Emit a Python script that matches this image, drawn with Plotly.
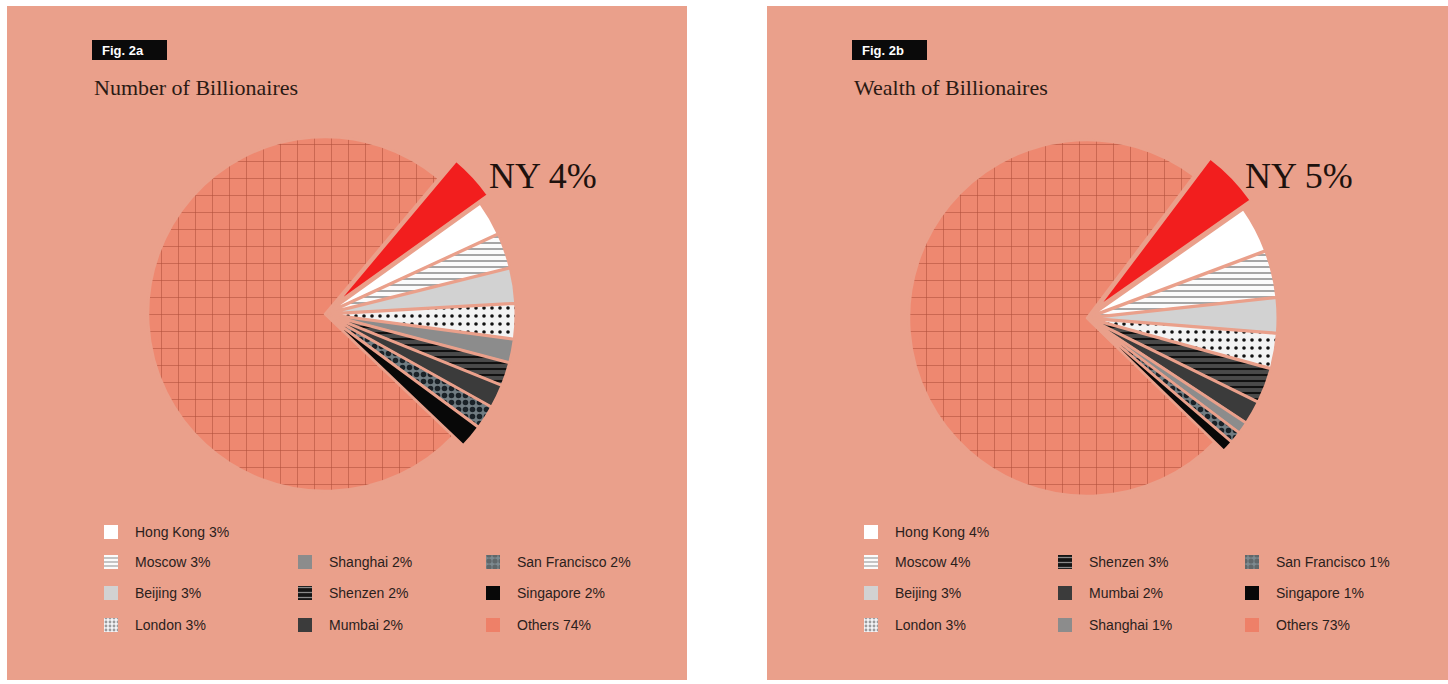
import plotly.graph_objects as go

W, H = 1448, 684

# ---------------- data ----------------
cities_a = ["NY", "Hong Kong", "Moscow", "Beijing", "London", "Shanghai",
            "Shenzen", "Mumbai", "San Francisco", "Singapore", "Others"]
share_a = [4, 3, 3, 3, 3, 2, 2, 2, 2, 2, 74]

cities_b = ["NY", "Hong Kong", "Moscow", "Beijing", "London", "Shenzen",
            "Mumbai", "Shanghai", "San Francisco", "Singapore", "Others"]
share_b = [5, 4, 4, 3, 3, 3, 2, 1, 1, 1, 73]

titles = ["Number of Billionaires", "Wealth of Billionaires"]
fig_tags = ["Fig. 2a", "Fig. 2b"]

# ---------------- styles ----------------
PANEL = "#eaa08b"
OTHERS = "#ee8870"
CLEAR = "rgba(0,0,0,0)"
# city: (pattern shape, fg, bg, size, solidity)
STYLE = {
    "NY": ("", "#f21e1e", "#f21e1e", 8, 0.3),
    "Hong Kong": ("", "#ffffff", "#ffffff", 8, 0.3),
    "Moscow": ("-", "#7a7a7a", "#fbfbfb", 6, 0.22),
    "Beijing": ("", "#d2d2d2", "#d2d2d2", 8, 0.3),
    "London": (".", "#111111", "#f3f3f3", 8, 0.16),
    "Shanghai": ("", "#8c8c8c", "#8c8c8c", 8, 0.3),
    "Shenzen": ("-", "#111111", "#4a4a4a", 6, 0.35),
    "Mumbai": ("", "#3b3b3b", "#3b3b3b", 8, 0.3),
    "San Francisco": (".", "#1a2228", "#707c82", 7, 0.5),
    "Singapore": ("", "#080808", "#080808", 8, 0.3),
    "Others": ("+", "#b04f3a", OTHERS, 17, 0.065),
}
LEG_STYLE = {  # small legend swatches
    "Moscow": ("-", "#9a9a9a", "#fbfbfb", 4, 0.3),
    "London": (".", "#8fa0c0", "#f3f3f6", 4, 0.4),
    "Shenzen": ("-", "#777777", "#151515", 5, 0.25),
    "San Francisco": (".", "#111a20", "#7d8a90", 6, 0.6),
    "Others": ("", OTHERS, "#ee8068", 8, 0.3),
}
BIG = "Others"
PULL_NY = 0.08
PULL_SMALL = 0.02
R_SMALL = 187   # radius of the fan of city slices (px)

panels = [
    dict(x0=7, x1=687, cx=325, cy=314, r=177, rot=40, cities=cities_a, share=share_a,
         ny=(487, 176), legx=[111, 305, 493], legy=[532, 562, 593, 625]),
    dict(x0=767, x1=1448, cx=1087, cy=318, r=178, rot=37, cities=cities_b, share=share_b,
         ny=(1243, 176), legx=[871, 1065, 1252], legy=[532, 562, 593, 625]),
]
# legend slots (column, row) for items after NY
SLOTS = [(0, 0), (0, 1), (0, 2), (0, 3), (1, 1), (1, 2), (1, 3), (2, 1), (2, 2), (2, 3)]
SW = 14  # swatch size


def domain(cx, cy, half):
    return dict(x=[(cx - half) / W, (cx + half) / W],
                y=[1 - (cy + half) / H, 1 - (cy - half) / H])


fig = go.Figure()
shapes, annos = [], []

for i, p in enumerate(panels):
    cities, share = p["cities"], p["share"]

    # "Others" slice (the big one)
    show_big = [c == BIG for c in cities]
    fig.add_trace(go.Pie(
        labels=cities, values=share, sort=False, direction="clockwise",
        rotation=p["rot"], textinfo="none", hoverinfo="label+value",
        showlegend=False, domain=domain(p["cx"], p["cy"], p["r"]),
        marker=dict(
            colors=[STYLE[c][2] if b else CLEAR for c, b in zip(cities, show_big)],
            line=dict(color=PANEL, width=[2.5 if b else 0 for b in show_big]),
            pattern=dict(
                shape=[STYLE[c][0] if b else "" for c, b in zip(cities, show_big)],
                fgcolor=[STYLE[c][1] for c in cities],
                bgcolor=[STYLE[c][2] if b else CLEAR for c, b in zip(cities, show_big)],
                size=[STYLE[c][3] for c in cities],
                solidity=[STYLE[c][4] for c in cities],
                fillmode="replace",
            ),
        ),
    ))

    # fan of city slices, slightly exploded
    pulls = [PULL_NY if j == 0 else (0 if c == BIG else PULL_SMALL)
             for j, c in enumerate(cities)]
    half = R_SMALL * (1 + max(pulls))
    fig.add_trace(go.Pie(
        labels=cities, values=share, sort=False, direction="clockwise",
        rotation=p["rot"], pull=pulls, textinfo="none", hoverinfo="label+value",
        showlegend=False, domain=domain(p["cx"], p["cy"], half),
        marker=dict(
            colors=[CLEAR if b else STYLE[c][2] for c, b in zip(cities, show_big)],
            line=dict(color=PANEL, width=[0 if b else 2.5 for b in show_big]),
            pattern=dict(
                shape=["" if b else STYLE[c][0] for c, b in zip(cities, show_big)],
                fgcolor=[STYLE[c][1] for c in cities],
                bgcolor=[CLEAR if b else STYLE[c][2] for c, b in zip(cities, show_big)],
                size=[STYLE[c][3] for c in cities],
                solidity=[STYLE[c][4] for c in cities],
                fillmode="replace",
            ),
        ),
    ))

    # panel background
    shapes.append(dict(type="rect", xref="x", yref="y", x0=p["x0"], x1=p["x1"], y0=6, y1=680,
                       fillcolor=PANEL, line=dict(width=0), layer="below"))
    # fig tag
    tx = p["x0"] + 85
    shapes.append(dict(type="rect", xref="x", yref="y", x0=tx, x1=tx + 75, y0=40, y1=60,
                       fillcolor="#0a0a0a", line=dict(width=0), layer="below"))
    annos.append(dict(x=tx + 8, y=50, xref="x", yref="y", text=fig_tags[i], showarrow=False,
                      xanchor="left", yanchor="middle",
                      font=dict(family="Liberation Sans", size=13, color="#ffffff",
                                weight="bold")))
    # title
    annos.append(dict(x=tx, y=87, xref="x", yref="y", text=titles[i], showarrow=False,
                      xanchor="left", yanchor="middle",
                      font=dict(family="Liberation Serif", size=22, color="#2b1a14")))
    # NY label
    annos.append(dict(x=p["ny"][0], y=p["ny"][1], xref="x", yref="y",
                      text=f"{cities[0]} {share[0]}%", showarrow=False,
                      xanchor="left", yanchor="middle",
                      font=dict(family="Liberation Serif", size=36, color="#1e120e")))

    # legend
    lx, ly, base = [], [], []
    for (c, v), (col, row) in zip(list(zip(cities, share))[1:], SLOTS):
        x = p["legx"][col]
        y = p["legy"][row]
        lx.append(x)
        base.append(y - SW / 2)
        ly.append(SW)
        annos.append(dict(x=x + 22, y=y, xref="x", yref="y", text=f"{c} {v}%", showarrow=False,
                          xanchor="left", yanchor="middle",
                          font=dict(family="Liberation Sans", size=14, color="#2a201c")))
    leg_c = cities[1:]
    st = [LEG_STYLE.get(c, STYLE[c]) for c in leg_c]
    fig.add_trace(go.Bar(
        x=lx, y=ly, base=base, width=SW, showlegend=False, hoverinfo="skip",
        marker=dict(
            color=[s[2] for s in st],
            line=dict(width=0),
            pattern=dict(
                shape=[s[0] for s in st],
                fgcolor=[s[1] for s in st],
                size=[s[3] for s in st],
                solidity=[s[4] for s in st],
                fillmode="overlay",
            ),
        ),
    ))

fig.update_layout(
    width=W, height=H, margin=dict(l=0, r=0, t=0, b=0),
    paper_bgcolor="#ffffff", plot_bgcolor="rgba(0,0,0,0)",
    barmode="overlay",
    xaxis=dict(range=[0, W], visible=False, fixedrange=True, domain=[0, 1]),
    yaxis=dict(range=[H, 0], visible=False, fixedrange=True, domain=[0, 1]),
    shapes=shapes, annotations=annos,
)

fig.write_html("out.html", config={"displayModeBar": False},
               post_script="document.body.style.margin='0';document.body.style.overflow='hidden';")
